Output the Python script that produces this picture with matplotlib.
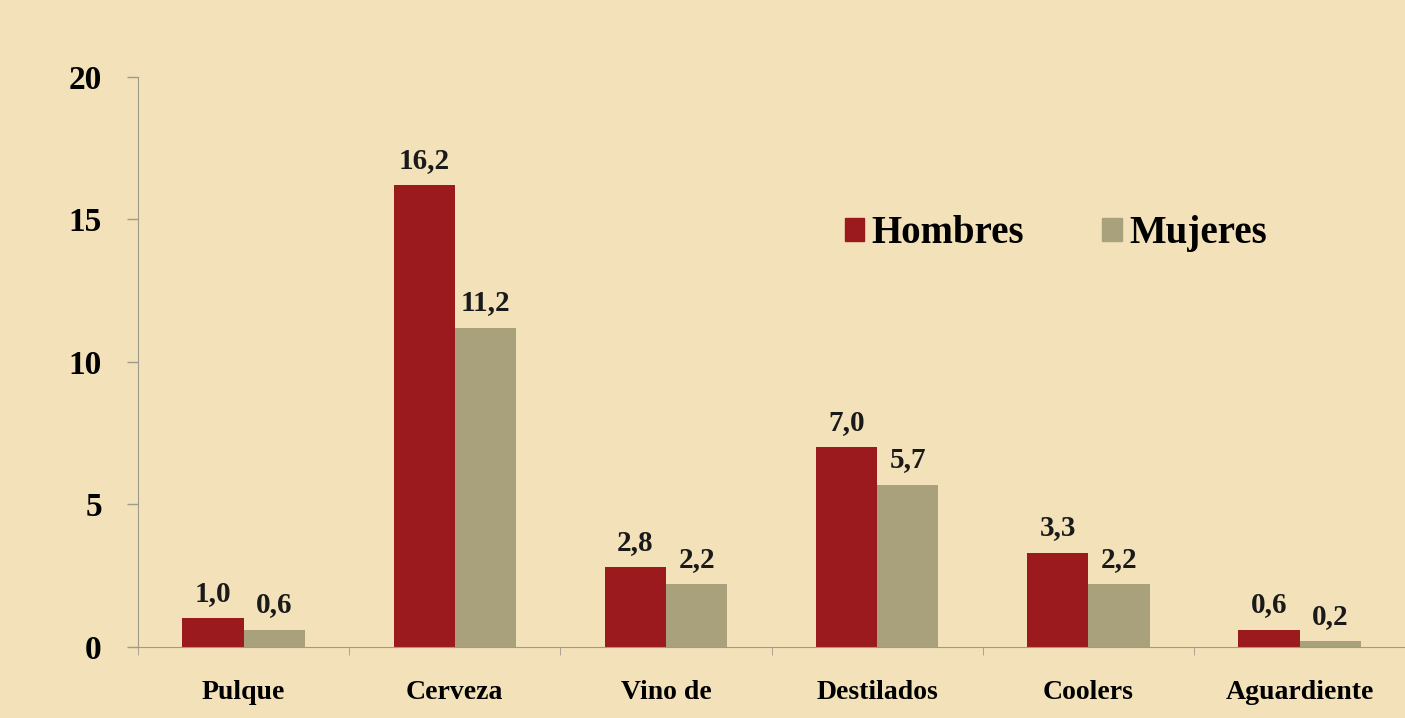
import matplotlib.pyplot as plt
import numpy as np
from matplotlib.patches import Patch

# Data
categorias = ['Pulque', 'Cerveza', 'Vino de', 'Destilados', 'Coolers', 'Aguardiente']
hombres = [1.0, 16.2, 2.8, 7.0, 3.3, 0.6]
mujeres = [0.6, 11.2, 2.2, 5.7, 2.2, 0.2]

bg = '#F3E1B9'
rojo = '#9A1A1D'
gris = '#A9A17B'

plt.rcParams['font.family'] = ['Liberation Serif', 'DejaVu Serif']

fig = plt.figure(figsize=(14.05, 7.18), dpi=100, facecolor=bg)
ax = fig.add_axes([0.0982, 0.0989, 0.902, 0.7939])
ax.set_facecolor(bg)

x = np.arange(len(categorias))
w = 0.29
b1 = ax.bar(x - w / 2, hombres, w, color=rojo)
b2 = ax.bar(x + w / 2, mujeres, w, color=gris)

for bars, vals in ((b1, hombres), (b2, mujeres)):
    for bar, v in zip(bars, vals):
        ax.text(bar.get_x() + bar.get_width() / 2, v + 0.4, f'{v:.1f}'.replace('.', ','),
                ha='center', va='bottom', fontsize=21, fontweight='bold', color='#1a1a1a')

ax.set_ylim(0, 20)
ax.set_xlim(-0.5, len(categorias) - 0.5)
ax.set_yticks([0, 5, 10, 15, 20])
ax.tick_params(axis='y', labelsize=24, length=8, width=1, color='#a09a88', pad=18)
for lab in ax.get_yticklabels():
    lab.set_fontweight('bold')

ax.set_xticks(x)
ax.set_xticklabels(categorias, fontsize=20, fontweight='bold')
ax.tick_params(axis='x', length=0, pad=24)
ax.set_xticks(np.arange(len(categorias) + 1) - 0.5, minor=True)
ax.tick_params(axis='x', which='minor', length=6, color='#a09a88')

for s in ['top', 'right']:
    ax.spines[s].set_visible(False)
ax.spines['left'].set_color('#a09a88')
ax.spines['bottom'].set_color('#a09a88')

handles = [Patch(color=rojo, label='Hombres'), Patch(color=gris, label='Mujeres')]
ax.legend(handles=handles, loc='center left', bbox_to_anchor=(0.53, 0.725), ncol=2,
          frameon=False, prop={'size': 28, 'weight': 'bold'}, handlelength=0.5,
          handleheight=0.5, handletextpad=0.2, columnspacing=2.0)

plt.savefig('out.png', dpi=100, facecolor=bg)
plt.close()
